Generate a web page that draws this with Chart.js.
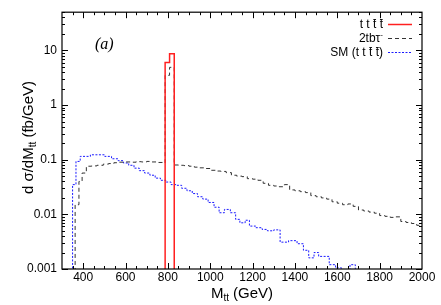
<!DOCTYPE html>
<html>
<head>
<meta charset="utf-8">
<script src="https://cdn.jsdelivr.net/npm/chart.js@4.4.0/dist/chart.umd.min.js"></script>
<style>
  html, body { margin: 0; padding: 0; background: #fff; }
</style>
</head>
<body>
<canvas id="grafico" width="441" height="305"></canvas>
<script>
// --- data: bin lower edges (GeV) + last upper edge, and dσ/dM (fb/GeV) per bin ---
const sigEdges = [787, 808, 830];
const sigVals  = [6.0, 8.7];

const bkgEdges = [362, 380, 395, 415, 440, 465, 495, 520, 545, 570, 600, 625, 650, 675, 700, 725, 750, 775,
                  787, 808, 830, 850, 875, 900, 925, 950, 975, 1000, 1025, 1050, 1075, 1100, 1125, 1150, 1175,
                  1200, 1225, 1250, 1275, 1300, 1325, 1350, 1375, 1400, 1425, 1450, 1475, 1500, 1525, 1550,
                  1575, 1600, 1625, 1650, 1675, 1700, 1725, 1750, 1775, 1800, 1825, 1850, 1875, 1900, 1925,
                  1950, 1975, 2000];
const bkgVals  = [0.015, 0.04, 0.057, 0.076, 0.077, 0.079, 0.083, 0.085, 0.088, 0.09, 0.091, 0.09, 0.092, 0.091,
                  0.093, 0.091, 0.089, 0.087,
                  3.5, 4.9,
                  0.08, 0.079, 0.078, 0.076, 0.073, 0.071, 0.069, 0.064, 0.062, 0.061, 0.058, 0.052, 0.05, 0.049,
                  0.045, 0.044, 0.042, 0.037, 0.034, 0.033, 0.032, 0.035, 0.028, 0.027, 0.026, 0.025, 0.022,
                  0.021, 0.02, 0.019, 0.017, 0.016, 0.015, 0.0155, 0.014, 0.012, 0.0115, 0.011, 0.0105, 0.0095,
                  0.0092, 0.0088, 0.009, 0.0074, 0.0071, 0.0068, 0.0063];

const smEdges = [350, 366, 386, 434, 502, 534, 565, 590, 615, 640, 665, 690, 715, 740, 765, 790, 815, 840, 865,
                 890, 915, 940, 965, 990, 1018, 1042, 1067, 1095, 1120, 1140, 1165, 1185, 1215, 1245, 1270, 1300,
                 1330, 1370, 1410, 1440, 1465, 1490, 1512, 1562, 1592, 1620, 1660, 1685];
const smVals  = [0.035, 0.093, 0.115, 0.123, 0.115, 0.104, 0.096, 0.087, 0.079, 0.07, 0.063, 0.057, 0.052,
                 0.046, 0.042, 0.039, 0.035, 0.034, 0.03, 0.027, 0.024, 0.021, 0.019, 0.0165, 0.0135, 0.0107,
                 0.0123, 0.0107, 0.0081, 0.007, 0.0078, 0.0061, 0.0057, 0.0053, 0.005, 0.0052, 0.0031, 0.0033,
                 0.0029, 0.0022, 0.0016, 0.002, 0.0017, 0.0012, 0.00105, 0.00098, 0.0012];

const yTicks = [0.001, 0.01, 0.1, 1, 10];
const xTicks = [400, 600, 800, 1000, 1200, 1400, 1600, 1800, 2000];

const PISO = 1e-6; // below the axis, so the outer edges drop off the frame

// convierte bordes + valores en puntos para una línea escalonada
// (stepped 'before': horizontal al valor anterior y luego vertical)
function histo(edges, vals, cerrar) {
    const pts = [{ x: edges[0], y: PISO }];
    vals.forEach((v, i) => pts.push({ x: edges[i], y: v }));
    const fin = edges[edges.length - 1];
    pts.push({ x: fin, y: vals[vals.length - 1] });
    if (cerrar) pts.push({ x: fin, y: PISO });
    return pts;
}

const FUENTE = "'Liberation Sans', Arial, sans-serif";

// texto con barras encima de algunos caracteres (t barra)
function textoBarra(ctx, str, xDer, y, idx) {
    ctx.textAlign = 'left';
    const w = ctx.measureText(str).width;
    const x0 = xDer - w;
    ctx.fillText(str, x0, y);
    ctx.lineWidth = 0.9;
    idx.forEach(i => {
        const cx = x0 + ctx.measureText(str.slice(0, i)).width;
        const cw = ctx.measureText(str[i]).width;
        ctx.beginPath();
        ctx.moveTo(cx + 0.3, y - 8.5);
        ctx.lineTo(cx + cw - 0.3, y - 8.5);
        ctx.stroke();
    });
}

const marco = {
    id: 'marco',
    afterDraw(chart) {
        const { ctx, chartArea: a, scales: { x, y } } = chart;
        ctx.save();
        ctx.strokeStyle = '#000';
        ctx.fillStyle = '#000';
        ctx.lineWidth = 1.2;
        ctx.strokeRect(a.left, a.top, a.right - a.left, a.bottom - a.top);

        // ticks hacia dentro, en los cuatro lados
        ctx.lineWidth = 1;
        ctx.beginPath();
        for (let m = 350; m < 2000; m += 50) {
            const px = Math.round(x.getPixelForValue(m)) + 0.5;
            const l = m % 200 === 0 ? 6 : 3;
            ctx.moveTo(px, a.bottom); ctx.lineTo(px, a.bottom - l);
            ctx.moveTo(px, a.top); ctx.lineTo(px, a.top + l);
        }
        for (let e = -3; e <= 1; e++) {
            for (let k = 1; k <= 9; k++) {
                const v = k * Math.pow(10, e);
                if (v > 50) break;
                const py = Math.round(y.getPixelForValue(v)) + 0.5;
                const l = k === 1 ? 6 : 3;
                ctx.moveTo(a.left, py); ctx.lineTo(a.left + l, py);
                ctx.moveTo(a.right, py); ctx.lineTo(a.right - l, py);
            }
        }
        ctx.stroke();

        // títulos de ejes
        ctx.textBaseline = 'alphabetic';
        ctx.font = '15px ' + FUENTE;
        const wM = ctx.measureText('M').width;
        const wG = ctx.measureText(' (GeV)').width;
        ctx.font = '10px ' + FUENTE;
        const wS = ctx.measureText('tt').width;
        let xt = 242 - (wM + wS + wG) / 2;
        ctx.textAlign = 'left';
        ctx.font = '15px ' + FUENTE;
        ctx.fillText('M', xt, 298);
        ctx.font = '10px ' + FUENTE;
        ctx.fillText('tt', xt + wM, 301);
        ctx.font = '15px ' + FUENTE;
        ctx.fillText(' (GeV)', xt + wM + wS, 298);

        ctx.save();
        ctx.translate(33, 137.5);
        ctx.rotate(-Math.PI / 2);
        const a1 = 'd σ/dM', a2 = ' (fb/GeV)';
        const w1 = ctx.measureText(a1).width, w2 = ctx.measureText(a2).width;
        ctx.font = '10px ' + FUENTE;
        const ws = ctx.measureText('tt').width;
        let yt = -(w1 + ws + w2) / 2;
        ctx.font = '15px ' + FUENTE;
        ctx.fillText(a1, yt, 0);
        ctx.font = '10px ' + FUENTE;
        ctx.fillText('tt', yt + w1, 3);
        ctx.font = '15px ' + FUENTE;
        ctx.fillText(a2, yt + w1 + ws, 0);
        ctx.restore();

        // etiqueta (a)
        ctx.font = "italic 16px 'Liberation Serif', 'Times New Roman', serif";
        ctx.fillText('(a)', 95, 49);

        // leyenda
        ctx.font = '12px ' + FUENTE;
        const xDer = 383;
        textoBarra(ctx, 't t t t', xDer, 28, [4, 6]);
        ctx.textAlign = 'right';
        ctx.font = '8px ' + FUENTE;
        ctx.fillText('-', xDer, 37);
        const wMen = ctx.measureText('-').width;
        ctx.font = '12px ' + FUENTE;
        ctx.fillText('2tbτ', xDer - wMen, 42);
        textoBarra(ctx, 'SM (t t t t)', xDer, 56, [8, 10]);

        const muestras = [
            { y: 24, c: '#ff2020', d: [], w: 1.5 },
            { y: 38, c: '#333333', d: [4, 3], w: 1 },
            { y: 52, c: '#1a1aff', d: [2, 1.5], w: 1 }
        ];
        muestras.forEach(s => {
            ctx.strokeStyle = s.c;
            ctx.lineWidth = s.w;
            ctx.setLineDash(s.d);
            ctx.beginPath();
            ctx.moveTo(388, s.y + 0.5);
            ctx.lineTo(412, s.y + 0.5);
            ctx.stroke();
        });
        ctx.restore();
    }
};

const ctx = document.getElementById('grafico').getContext('2d');

new Chart(ctx, {
    type: 'line',
    data: {
        datasets: [
            {
                label: 'tttt',
                data: histo(sigEdges, sigVals, true),
                borderColor: '#ff2020',
                borderWidth: 1.5,
                stepped: 'before',
                pointRadius: 0,
                fill: false
            },
            {
                label: '2tbτ-',
                data: histo(bkgEdges, bkgVals, false),
                borderColor: '#333333',
                borderWidth: 1,
                borderDash: [4, 3],
                stepped: 'before',
                pointRadius: 0,
                fill: false
            },
            {
                label: 'SM (tttt)',
                data: histo(smEdges, smVals, true),
                borderColor: '#1a1aff',
                borderWidth: 1,
                borderDash: [2, 1.5],
                stepped: 'before',
                pointRadius: 0,
                fill: false
            }
        ]
    },
    options: {
        responsive: false,
        animation: false,
        devicePixelRatio: 1,
        layout: { padding: { top: 10, right: 19, left: 0, bottom: 0 } },
        plugins: {
            legend: { display: false },
            tooltip: { enabled: false }
        },
        scales: {
            x: {
                type: 'linear',
                min: 300,
                max: 2000,
                grid: { display: false, drawTicks: false },
                border: { display: false },
                afterBuildTicks: s => { s.ticks = xTicks.map(v => ({ value: v })); },
                afterFit: s => { s.height = 36; },
                ticks: {
                    color: '#000',
                    font: { family: FUENTE, size: 12 },
                    padding: 1,
                    maxRotation: 0,
                    autoSkip: false,
                    callback: v => String(v)
                }
            },
            y: {
                type: 'logarithmic',
                min: 0.001,
                max: 50,
                grid: { display: false, drawTicks: false },
                border: { display: false },
                afterBuildTicks: s => { s.ticks = yTicks.map(v => ({ value: v })); },
                afterFit: s => { s.width = 62; },
                ticks: {
                    color: '#000',
                    font: { family: FUENTE, size: 12 },
                    padding: 5,
                    autoSkip: false,
                    callback: v => String(v)
                }
            }
        }
    },
    plugins: [marco]
});
</script>
</body>
</html>
